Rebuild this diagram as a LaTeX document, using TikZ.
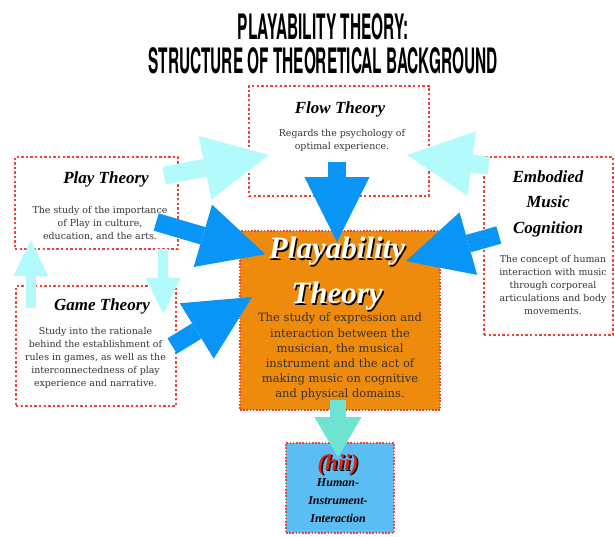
\documentclass[tikz,border=0pt]{standalone}
\usepackage{fontspec}
\usetikzlibrary{arrows.meta}
\newfontfamily\titlefont[FakeStretch=0.44]{TeX Gyre Heros}
\newfontfamily\bodyfont{DejaVu Serif}
\newfontfamily\headfont{Liberation Serif}
\definecolor{dotred}{RGB}{238,68,56}
\definecolor{ptyorange}{RGB}{238,139,12}
\definecolor{hiiblue}{RGB}{91,189,243}
\definecolor{arrowblue}{RGB}{8,149,245}
\definecolor{palecyan}{RGB}{178,250,251}
\definecolor{softteal}{RGB}{111,227,209}
\definecolor{hiired}{RGB}{232,33,15}
\tikzset
{
    dotbox/.style     = {rectangle, draw=dotred, line width=2.4pt, dash pattern=on 2.4pt off 2.2pt, inner sep=0pt},
    corebox/.style    = {rectangle, draw=dotred, line width=1.6pt, dash pattern=on 1.6pt off 1.6pt, inner sep=0pt, preaction={draw=white, solid, line width=1.6pt}},
    headline/.style   = {font=\headfont\fontsize{17}{25.5}\selectfont\bfseries\itshape, anchor=base, inner sep=0pt},
    blurb/.style      = {font=\bodyfont\fontsize{9.4}{13}\selectfont, align=center, anchor=north, inner sep=0pt, text=black!80},
    bigarrow/.style   = {line width=18pt, -{Triangle[length=65pt, width=65pt, line width=0pt]}},
    smallarrow/.style = {line width=10pt, -{Triangle[length=36pt, width=35pt, line width=0pt]}}
}
\newcommand{\shadowed}[2]{\makebox[0pt][l]{\kern1.5pt\raisebox{-1.5pt}{\color{black}#2}}{\color{#1}#2}}

\begin{document}
\begin{tikzpicture}[x=1pt, y=-1pt]
\useasboundingbox (0,0) rectangle (615,536);

\node (title)[anchor=north, align=center, inner sep=0pt, font=\titlefont\bfseries\fontsize{35}{34}\selectfont] at (323,13) {PLAYABILITY THEORY:\\STRUCTURE OF THEORETICAL BACKGROUND};

% boxes
\node (flow)[dotbox, minimum width=180pt, minimum height=110pt] 	at (339,141)   {};
\node (play)[dotbox, minimum width=163pt, minimum height=92pt] 		at (96.5,203)  {};
\node (game)[dotbox, minimum width=160pt, minimum height=120pt] 	at (96,346)    {};
\node (emb)[dotbox, minimum width=129pt, minimum height=178pt] 		at (548.5,246) {};
\node (pty)[corebox, fill=ptyorange, minimum width=200pt, minimum height=179pt] at (340,320.5) {};
\node (hii)[corebox, fill=hiiblue, minimum width=108pt, minimum height=90pt] 	at (340,488)   {};

% pale links between the outer theories
\draw[palecyan, smallarrow] ([shift={(16,23)}]game.north west) 	-- ([shift={(17,-10)}]play.south west);
\draw[palecyan, smallarrow] ([shift={(-16,-1)}]play.south east) -- ([shift={(-14,29)}]game.north east);
\draw[palecyan, bigarrow] 	([shift={(-15,20)}]play.north east) -- ([shift={(21,14)}]flow.west);
\draw[palecyan, bigarrow] 	([shift={(6,10)}]emb.north west) 		-- ([shift={(-23,14)}]flow.east);

% everything feeds the core
\draw[arrowblue, bigarrow] ([shift={(-2,21)}]flow.center) 	-- ([shift={(-3,12)}]pty.north);
\draw[arrowblue, bigarrow] ([shift={(-23,19)}]play.east) 		-- ([shift={(26,24)}]pty.north west);
\draw[arrowblue, bigarrow] ([shift={(-5,0)}]game.east) 			-- ([shift={(13,-23.5)}]pty.west);
\draw[arrowblue, bigarrow] ([shift={(16,-11)}]emb.west) 		-- ([shift={(-35,31)}]pty.north east);

\draw[softteal, line width=16pt, -{Triangle[length=40pt, width=47pt, line width=0pt]}] ([shift={(-2,-11)}]pty.south) -- ([shift={(-2,15)}]hii.north);

% texts
\node (flowname)[headline] 	at (340,113) {Flow Theory};
\node (flowtext)[blurb] 		at (342,129) {Regards the psychology of\\optimal experience.};

\node (playname)[headline] 	at (106,183) {Play Theory};
\node (playtext)[blurb] 		at (100,206) {The study of the importance\\of Play in culture,\\education, and the arts.};

\node (gamename)[headline] 	at (102,310) {Game Theory};
\node (gametext)[blurb] 		at (95.5,327) {Study into the rationale\\behind the establishment of\\rules in games, as well as the\\interconnectedness of play\\experience and narrative.};

\node (embname)[headline, anchor=north, align=center] at (548,170) {Embodied\\Music\\Cognition};
\node (embtext)[blurb] 		at (553,255) {The concept of human\\interaction with music\\through corporeal\\articulations and body\\movements.};

\node (ptyname)[anchor=north, align=center, inner sep=0pt, font=\headfont\fontsize{31}{45}\selectfont\bfseries\itshape] at (337,237) {\shadowed{white}{Playability}\\\shadowed{white}{Theory}};
\node (ptytext)[blurb, font=\bodyfont\fontsize{11.5}{15.2}\selectfont] at (340,313) {The study of expression and\\interaction between the\\musician, the musical\\instrument and the act of\\making music on cognitive\\and physical domains.};

\node (hiiname)[anchor=base, inner sep=0pt, font=\headfont\fontsize{23}{23}\selectfont\bfseries\itshape] at (338,470) {\shadowed{hiired}{(hii)}};
\node (hiitext)[anchor=north, align=center, inner sep=0pt, font=\headfont\fontsize{12}{18}\selectfont\bfseries\itshape] at (338,478) {Human-\\Instrument-\\Interaction};

	\end{tikzpicture}
\end{document}
